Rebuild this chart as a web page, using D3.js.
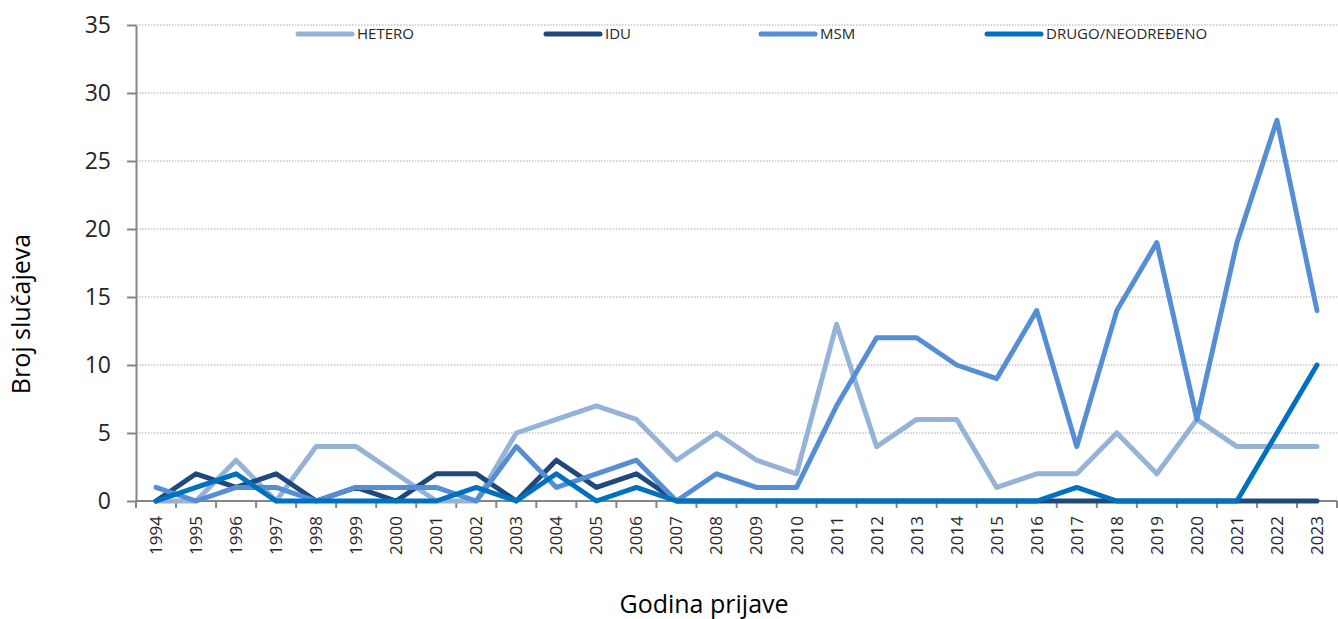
<!DOCTYPE html>
<html>
<head>
<meta charset="utf-8">
<script src="https://cdn.jsdelivr.net/npm/d3@7"></script>
<style>
  body { margin: 0; background: #fff; }
  text { font-family: "Open Sans", "Liberation Sans", sans-serif; }
</style>
</head>
<body>
<div id="chart"></div>
<script>
// chart data
const years = d3.range(1994, 2024).map(String);
const seriesNames = ["HETERO", "IDU", "MSM", "DRUGO/NEODREĐENO"];
const hetero = [0,0,3,0,4,4,2,0,0,5,6,7,6,3,5,3,2,13,4,6,6,1,2,2,5,2,6,4,4,4];
const idu    = [0,2,1,2,0,1,0,2,2,0,3,1,2,0,0,0,0,0,0,0,0,0,0,0,0,0,0,0,0,0];
const msm    = [1,0,1,1,0,1,1,1,0,4,1,2,3,0,2,1,1,7,12,12,10,9,14,4,14,19,6,19,28,14];
const drugo  = [0,1,2,0,0,0,0,0,1,0,2,0,1,0,0,0,0,0,0,0,0,0,0,1,0,0,0,0,5,10];
const yTicks = [0, 5, 10, 15, 20, 25, 30, 35];

const colors = ["#95B3D7", "#1F497D", "#558ED5", "#0070C0"];
const allSeries = [hetero, idu, msm, drugo];

// dimensions
const W = 1338, H = 619;
const plotLeft = 136, plotRight = 1337, plotTop = 25, plotBottom = 501;

const svg = d3.select("#chart").append("svg")
  .attr("width", W)
  .attr("height", H);

const x = d3.scalePoint()
  .domain(years)
  .range([plotLeft, plotRight])
  .padding(0.5);
const step = x.step();

const y = d3.scaleLinear()
  .domain([0, 35])
  .range([plotBottom, plotTop]);

// gridlines
svg.append("g")
  .selectAll("line")
  .data(yTicks.filter(d => d > 0))
  .join("line")
    .attr("x1", plotLeft)
    .attr("x2", plotRight)
    .attr("y1", d => y(d))
    .attr("y2", d => y(d))
    .attr("stroke", "#a6a6a6")
    .attr("stroke-width", 1)
    .attr("stroke-dasharray", "1.5,1.5");

// y axis
const yAxis = svg.append("g")
  .attr("transform", `translate(${plotLeft},0)`)
  .call(d3.axisLeft(y).tickValues(yTicks).tickSize(9).tickSizeOuter(0).tickPadding(16));
yAxis.select(".domain").attr("stroke", "#868686").attr("stroke-width", 2);
yAxis.selectAll(".tick line").attr("stroke", "#868686").attr("stroke-width", 2);
yAxis.selectAll(".tick text")
  .style("font-size", "23px")
  .attr("fill", "#262626");

// x axis line + boundary ticks
svg.append("line")
  .attr("x1", plotLeft - 1).attr("x2", plotRight)
  .attr("y1", plotBottom).attr("y2", plotBottom)
  .attr("stroke", "#868686").attr("stroke-width", 2);

const bounds = years.map(d => x(d) - step / 2).concat([x(years[years.length - 1]) + step / 2]);
svg.append("g")
  .selectAll("line")
  .data(bounds)
  .join("line")
    .attr("x1", d => d)
    .attr("x2", d => d)
    .attr("y1", plotBottom)
    .attr("y2", plotBottom + 7)
    .attr("stroke", "#868686")
    .attr("stroke-width", 2);

svg.append("g")
  .selectAll("text")
  .data(years)
  .join("text")
    .attr("transform", d => `translate(${x(d)},516) rotate(-90)`)
    .attr("text-anchor", "end")
    .attr("dy", "0.35em")
    .style("font-size", "17px")
    .attr("fill", "#262626")
    .text(d => d);

// lines
const line = d3.line()
  .x((d, i) => x(years[i]))
  .y(d => y(d));

svg.append("g")
  .selectAll("path")
  .data(allSeries)
  .join("path")
    .attr("d", d => line(d))
    .attr("fill", "none")
    .attr("stroke", (d, i) => colors[i])
    .attr("stroke-width", 5)
    .attr("stroke-linejoin", "round")
    .attr("stroke-linecap", "round");

// legend
const legendX = [298, 546, 761, 987];
const legend = svg.append("g")
  .selectAll("g")
  .data(seriesNames)
  .join("g")
    .attr("transform", (d, i) => `translate(${legendX[i]},34)`);

legend.append("line")
  .attr("x1", 0).attr("x2", 54)
  .attr("stroke", (d, i) => colors[i])
  .attr("stroke-width", 5)
  .attr("stroke-linecap", "round");

legend.append("text")
  .attr("x", 59)
  .attr("dy", "0.35em")
  .style("font-size", "15px")
  .attr("fill", "#262626")
  .text(d => d);

// axis titles
svg.append("text")
  .attr("transform", `translate(30,314) rotate(-90)`)
  .attr("text-anchor", "middle")
  .style("font-size", "25px")
  .attr("fill", "#000")
  .text("Broj slučajeva");

svg.append("text")
  .attr("x", 704)
  .attr("y", 613)
  .attr("text-anchor", "middle")
  .style("font-size", "25px")
  .attr("fill", "#000")
  .text("Godina prijave");
</script>
</body>
</html>
